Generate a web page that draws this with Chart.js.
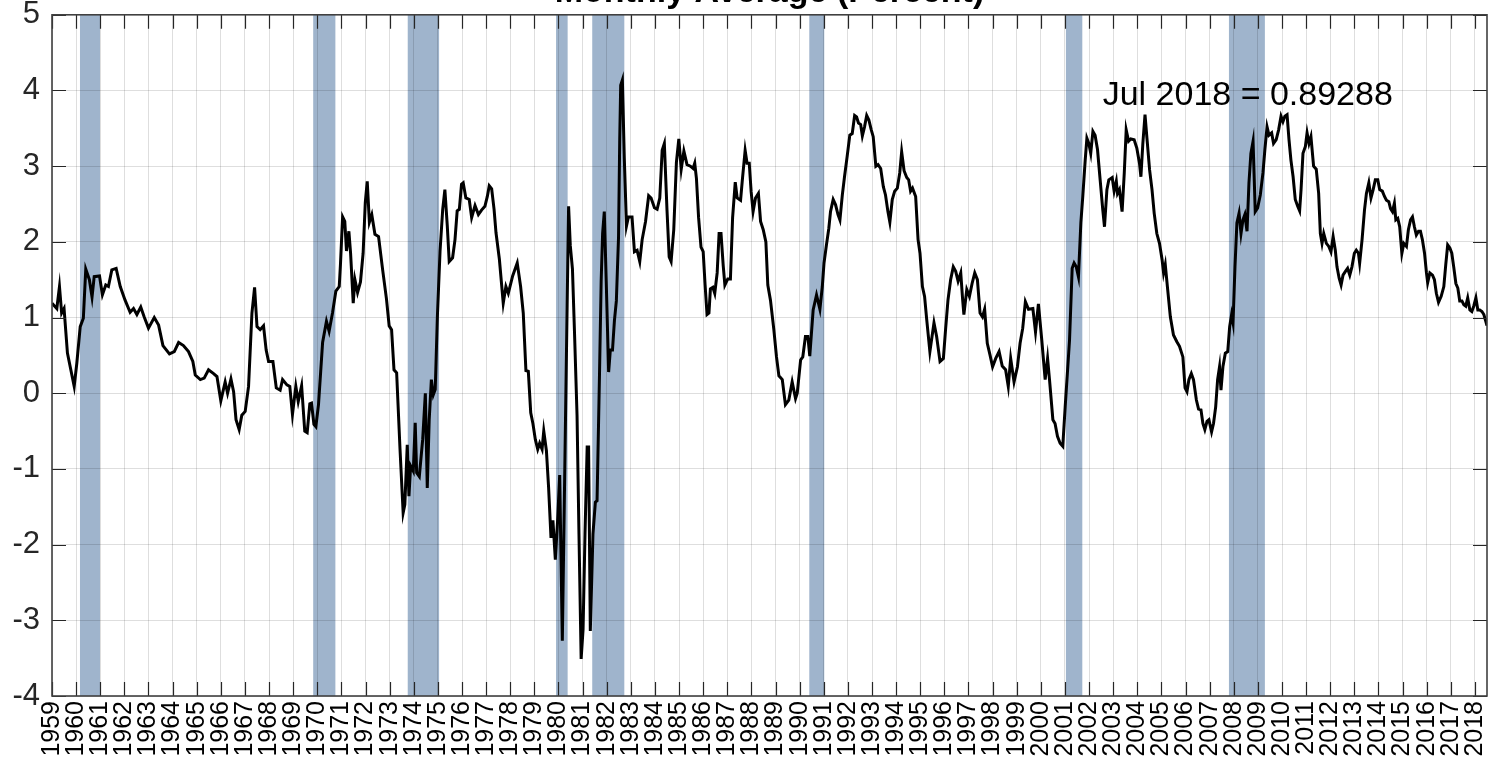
<!DOCTYPE html>
<html>
<head>
<meta charset="utf-8">
<script src="https://cdn.jsdelivr.net/npm/chart.js@4.4.0/dist/chart.umd.min.js"></script>
<style>
  html, body { margin: 0; padding: 0; background: #fff; overflow: hidden; }
  #wrap { position: absolute; left: 0; top: -40px; width: 1502px; height: 807px; }
</style>
</head>
<body>
<div id="wrap"><canvas id="chart"></canvas></div>
<script>
// monthly average (percent); x = fractional year
const dates = [
  1959.0, 1959.2, 1959.31, 1959.4, 1959.5, 1959.64, 1959.78, 1959.92, 1960.03, 1960.17,
  1960.3, 1960.4, 1960.55, 1960.66, 1960.75, 1960.97, 1961.09, 1961.23, 1961.34, 1961.48,
  1961.66, 1961.83, 1962.03, 1962.24, 1962.38, 1962.52, 1962.68, 1962.82, 1963.0, 1963.24,
  1963.42, 1963.6, 1963.87, 1964.07, 1964.25, 1964.45, 1964.66, 1964.84, 1964.94, 1965.15,
  1965.31, 1965.49, 1965.7, 1965.84, 1966.0, 1966.18, 1966.28, 1966.42, 1966.53, 1966.63,
  1966.76, 1966.87, 1967.01, 1967.15, 1967.29, 1967.4, 1967.5, 1967.63, 1967.77, 1967.88,
  1967.98, 1968.16, 1968.3, 1968.46, 1968.56, 1968.74, 1968.86, 1968.97, 1969.11, 1969.21,
  1969.35, 1969.48, 1969.58, 1969.69, 1969.76, 1969.86, 1969.94, 1970.05, 1970.22, 1970.38,
  1970.49, 1970.63, 1970.77, 1970.91, 1970.96, 1971.05, 1971.14, 1971.21, 1971.31, 1971.38,
  1971.49, 1971.56, 1971.67, 1971.79, 1971.9, 1971.99, 1972.07, 1972.16, 1972.26, 1972.39,
  1972.54, 1972.71, 1972.87, 1972.98, 1973.08, 1973.18, 1973.29, 1973.43, 1973.56, 1973.63,
  1973.73, 1973.8, 1973.87, 1973.98, 1974.06, 1974.12, 1974.23, 1974.37, 1974.48, 1974.56,
  1974.64, 1974.73, 1974.81, 1974.89, 1974.98, 1975.09, 1975.2, 1975.29, 1975.39, 1975.47,
  1975.61, 1975.71, 1975.8, 1975.89, 1975.98, 1976.05, 1976.16, 1976.3, 1976.4, 1976.54,
  1976.68, 1976.81, 1976.95, 1977.05, 1977.13, 1977.23, 1977.33, 1977.41, 1977.55, 1977.71,
  1977.82, 1977.92, 1978.1, 1978.29, 1978.43, 1978.54, 1978.65, 1978.75, 1978.85, 1978.94,
  1979.04, 1979.14, 1979.22, 1979.32, 1979.39, 1979.5, 1979.59, 1979.69, 1979.77, 1979.87,
  1979.97, 1980.05, 1980.16, 1980.27, 1980.36, 1980.42, 1980.49, 1980.58, 1980.67, 1980.77,
  1980.85, 1980.94, 1981.02, 1981.1, 1981.19, 1981.25, 1981.32, 1981.43, 1981.53, 1981.6,
  1981.7, 1981.77, 1981.83, 1981.9, 1981.98, 1982.08, 1982.15, 1982.24, 1982.32, 1982.4,
  1982.49, 1982.54, 1982.58, 1982.65, 1982.73, 1982.82, 1982.9, 1983.05, 1983.15, 1983.26,
  1983.37, 1983.47, 1983.61, 1983.74, 1983.84, 1983.98, 1984.09, 1984.2, 1984.3, 1984.39,
  1984.5, 1984.59, 1984.67, 1984.78, 1984.89, 1984.99, 1985.09, 1985.2, 1985.33, 1985.47,
  1985.58, 1985.65, 1985.72, 1985.81, 1985.91, 1986.0, 1986.08, 1986.16, 1986.24, 1986.3,
  1986.4, 1986.48, 1986.58, 1986.66, 1986.74, 1986.83, 1986.9, 1987.02, 1987.13, 1987.22,
  1987.33, 1987.41, 1987.55, 1987.63, 1987.74, 1987.82, 1987.91, 1987.99, 1988.07, 1988.17,
  1988.29, 1988.38, 1988.49, 1988.6, 1988.68, 1988.79, 1988.93, 1989.04, 1989.14, 1989.28,
  1989.41, 1989.55, 1989.69, 1989.83, 1989.9, 1990.04, 1990.13, 1990.24, 1990.34, 1990.42,
  1990.56, 1990.7, 1990.84, 1990.94, 1991.01, 1991.12, 1991.21, 1991.28, 1991.39, 1991.49,
  1991.59, 1991.67, 1991.77, 1991.86, 1991.97, 1992.08, 1992.18, 1992.28, 1992.36, 1992.44,
  1992.53, 1992.6, 1992.69, 1992.78, 1992.87, 1992.97, 1993.05, 1993.16, 1993.25, 1993.36,
  1993.47, 1993.56, 1993.66, 1993.74, 1993.84, 1993.94, 1994.05, 1994.15, 1994.23, 1994.33,
  1994.44, 1994.52, 1994.6, 1994.68, 1994.81, 1994.91, 1994.99, 1995.09, 1995.18, 1995.27,
  1995.4, 1995.57, 1995.68, 1995.82, 1995.96, 1996.05, 1996.15, 1996.26, 1996.37, 1996.47,
  1996.57, 1996.68, 1996.76, 1996.81, 1996.93, 1997.04, 1997.15, 1997.26, 1997.37, 1997.48,
  1997.58, 1997.67, 1997.78, 1997.89, 1998.0, 1998.13, 1998.27, 1998.4, 1998.54, 1998.65,
  1998.75, 1998.89, 1999.03, 1999.14, 1999.25, 1999.36, 1999.49, 1999.67, 1999.78, 1999.9,
  2000.04, 2000.18, 2000.28, 2000.36, 2000.5, 2000.59, 2000.69, 2000.8, 2000.91, 2001.01,
  2001.11, 2001.19, 2001.3, 2001.38, 2001.47, 2001.56, 2001.66, 2001.74, 2001.84, 2001.91,
  2001.99, 2002.07, 2002.16, 2002.25, 2002.35, 2002.46, 2002.57, 2002.64, 2002.74, 2002.82,
  2002.96, 2003.04, 2003.13, 2003.18, 2003.26, 2003.37, 2003.46, 2003.54, 2003.64, 2003.73,
  2003.87, 2003.98, 2004.09, 2004.15, 2004.23, 2004.32, 2004.4, 2004.51, 2004.61, 2004.7,
  2004.81, 2004.92, 2005.03, 2005.09, 2005.16, 2005.26, 2005.37, 2005.5, 2005.64, 2005.75,
  2005.89, 2005.98, 2006.06, 2006.14, 2006.24, 2006.33, 2006.45, 2006.54, 2006.64, 2006.72,
  2006.8, 2006.89, 2006.97, 2007.08, 2007.16, 2007.25, 2007.33, 2007.41, 2007.47, 2007.55,
  2007.65, 2007.75, 2007.83, 2007.91, 2007.97, 2008.05, 2008.13, 2008.22, 2008.3, 2008.38,
  2008.46, 2008.55, 2008.63, 2008.71, 2008.8, 2008.89, 2008.99, 2009.1, 2009.21, 2009.29,
  2009.38, 2009.46, 2009.57, 2009.65, 2009.76, 2009.86, 2009.96, 2010.04, 2010.12, 2010.21,
  2010.29, 2010.37, 2010.46, 2010.55, 2010.65, 2010.73, 2010.79, 2010.87, 2010.97, 2011.04,
  2011.12, 2011.2, 2011.31, 2011.42, 2011.52, 2011.59, 2011.66, 2011.73, 2011.84, 2011.94,
  2012.03, 2012.12, 2012.21, 2012.28, 2012.37, 2012.45, 2012.53, 2012.63, 2012.72, 2012.81,
  2012.9, 2013.0, 2013.08, 2013.17, 2013.22, 2013.32, 2013.42, 2013.5, 2013.6, 2013.69,
  2013.78, 2013.87, 2013.97, 2014.05, 2014.16, 2014.25, 2014.33, 2014.43, 2014.5, 2014.58,
  2014.66, 2014.72, 2014.8, 2014.88, 2014.97, 2015.05, 2015.16, 2015.24, 2015.33, 2015.41,
  2015.49, 2015.57, 2015.66, 2015.74, 2015.82, 2015.91, 2015.99, 2016.04, 2016.13, 2016.24,
  2016.32, 2016.4, 2016.49, 2016.6, 2016.71, 2016.79, 2016.87, 2016.96, 2017.04, 2017.12,
  2017.21, 2017.29, 2017.37, 2017.46, 2017.54, 2017.62, 2017.7, 2017.79, 2017.87, 2017.95,
  2018.04, 2018.12, 2018.2, 2018.29, 2018.37, 2018.5
];

const rate = [
  1.19, 1.12, 1.41, 1.06, 1.12, 0.53, 0.31, 0.09, 0.40, 0.88,
  0.99, 1.64, 1.50, 1.27, 1.54, 1.55, 1.30, 1.43, 1.41, 1.63,
  1.65, 1.41, 1.23, 1.07, 1.12, 1.04, 1.14, 1.01, 0.86, 1.00,
  0.90, 0.63, 0.52, 0.55, 0.67, 0.63, 0.55, 0.42, 0.24, 0.18,
  0.20, 0.31, 0.26, 0.22, -0.10, 0.15, 0.00, 0.19, 0.02, -0.35,
  -0.48, -0.29, -0.24, 0.09, 1.06, 1.40, 0.88, 0.84, 0.89, 0.57,
  0.42, 0.42, 0.07, 0.04, 0.18, 0.11, 0.09, -0.28, 0.09, -0.11,
  0.10, -0.50, -0.52, -0.14, -0.13, -0.41, -0.44, -0.15, 0.67, 0.95,
  0.82, 1.06, 1.35, 1.41, 1.70, 2.33, 2.27, 1.88, 2.14, 1.85,
  1.19, 1.50, 1.33, 1.47, 1.85, 2.52, 2.80, 2.26, 2.36, 2.10,
  2.07, 1.63, 1.24, 0.89, 0.84, 0.31, 0.27, -0.74, -1.58, -1.47,
  -0.68, -1.36, -0.96, -1.03, -0.39, -1.05, -1.10, -0.61, 0.00, -1.25,
  -0.35, 0.18, -0.02, 0.05, 1.02, 1.88, 2.43, 2.69, 2.21, 1.74,
  1.79, 2.03, 2.41, 2.43, 2.76, 2.78, 2.58, 2.56, 2.32, 2.48,
  2.36, 2.42, 2.47, 2.60, 2.74, 2.70, 2.43, 2.12, 1.77, 1.19,
  1.41, 1.32, 1.55, 1.72, 1.41, 1.06, 0.30, 0.29, -0.26, -0.40,
  -0.61, -0.74, -0.66, -0.74, -0.50, -0.76, -1.24, -1.91, -1.68, -2.20,
  -1.65, -1.08, -3.27, -0.82, 1.17, 2.47, 1.95, 1.64, 0.75, -0.29,
  -1.86, -3.51, -3.12, -1.86, -0.71, -0.71, -3.14, -1.86, -1.44, -1.42,
  0.23, 1.48, 2.11, 2.40, 1.48, 0.28, 0.57, 0.57, 0.96, 1.22,
  2.06, 3.36, 4.07, 4.14, 3.10, 2.21, 2.33, 2.33, 1.87, 1.89,
  1.74, 2.03, 2.27, 2.61, 2.58, 2.45, 2.43, 2.58, 3.21, 3.30,
  2.42, 1.80, 1.74, 2.16, 3.05, 3.36, 2.96, 3.20, 3.02, 3.00,
  2.97, 3.04, 2.84, 2.32, 1.93, 1.87, 1.43, 1.04, 1.06, 1.38,
  1.40, 1.32, 1.59, 2.11, 2.11, 1.69, 1.43, 1.51, 1.51, 2.32,
  2.79, 2.58, 2.55, 2.84, 3.21, 3.04, 3.04, 2.66, 2.40, 2.58,
  2.64, 2.27, 2.16, 2.00, 1.43, 1.23, 0.84, 0.48, 0.23, 0.18,
  -0.15, -0.09, 0.15, -0.07, 0.00, 0.44, 0.48, 0.75, 0.75, 0.49,
  1.10, 1.30, 1.11, 1.41, 1.72, 1.98, 2.18, 2.40, 2.56, 2.49,
  2.36, 2.29, 2.62, 2.86, 3.13, 3.41, 3.43, 3.67, 3.65, 3.57,
  3.55, 3.40, 3.52, 3.67, 3.61, 3.48, 3.39, 3.00, 3.02, 2.97,
  2.73, 2.62, 2.40, 2.26, 2.56, 2.67, 2.71, 2.91, 3.19, 2.94,
  2.85, 2.82, 2.67, 2.71, 2.60, 2.03, 1.85, 1.41, 1.28, 0.97,
  0.55, 0.93, 0.75, 0.42, 0.46, 0.84, 1.23, 1.50, 1.67, 1.61,
  1.48, 1.59, 1.23, 1.04, 1.37, 1.28, 1.45, 1.59, 1.50, 1.06,
  1.01, 1.11, 0.66, 0.51, 0.35, 0.46, 0.55, 0.36, 0.31, 0.09,
  0.46, 0.15, 0.35, 0.66, 0.86, 1.21, 1.11, 1.12, 0.81, 1.18,
  0.70, 0.18, 0.46, 0.18, -0.35, -0.40, -0.57, -0.66, -0.70, -0.18,
  0.31, 0.70, 1.65, 1.72, 1.67, 1.54, 2.25, 2.60, 3.08, 3.37,
  3.30, 3.17, 3.46, 3.41, 3.22, 2.82, 2.42, 2.20, 2.69, 2.82,
  2.85, 2.67, 2.80, 2.64, 2.69, 2.40, 2.91, 3.48, 3.33, 3.36,
  3.35, 3.24, 3.04, 2.86, 3.30, 3.68, 3.37, 2.95, 2.69, 2.38,
  2.11, 1.98, 1.76, 1.59, 1.70, 1.37, 1.01, 0.77, 0.68, 0.62,
  0.48, 0.07, 0.02, 0.18, 0.26, 0.18, -0.09, -0.21, -0.22, -0.40,
  -0.48, -0.37, -0.35, -0.51, -0.40, -0.18, 0.18, 0.35, 0.04, 0.35,
  0.53, 0.55, 0.88, 1.04, 0.93, 1.67, 2.25, 2.38, 2.11, 2.29,
  2.36, 2.14, 2.78, 3.17, 3.33, 2.40, 2.45, 2.62, 2.91, 3.22,
  3.52, 3.41, 3.44, 3.30, 3.35, 3.48, 3.66, 3.59, 3.66, 3.68,
  3.35, 3.08, 2.86, 2.56, 2.47, 2.41, 2.69, 3.17, 3.26, 3.44,
  3.30, 3.39, 3.00, 2.96, 2.64, 2.11, 1.98, 2.11, 1.98, 1.94,
  1.87, 2.07, 1.89, 1.67, 1.52, 1.43, 1.56, 1.61, 1.65, 1.56,
  1.67, 1.85, 1.89, 1.85, 1.72, 2.03, 2.42, 2.64, 2.78, 2.58,
  2.69, 2.82, 2.82, 2.69, 2.67, 2.60, 2.55, 2.53, 2.44, 2.40,
  2.51, 2.29, 2.31, 2.20, 1.85, 1.98, 1.94, 2.16, 2.29, 2.33,
  2.20, 2.09, 2.14, 2.14, 2.03, 1.85, 1.59, 1.46, 1.59, 1.56,
  1.50, 1.32, 1.20, 1.28, 1.41, 1.70, 1.96, 1.92, 1.85, 1.67,
  1.45, 1.39, 1.22, 1.22, 1.17, 1.15, 1.26, 1.10, 1.08, 1.15,
  1.26, 1.10, 1.10, 1.08, 1.04, 0.89288
];

// recession shading (fractional years)
const recStart = [1960.16, 1969.83, 1973.75, 1979.9, 1981.4, 1990.4, 2001.04, 2007.8];
const recEnd = [1960.99, 1970.75, 1975.05, 1980.38, 1982.73, 1991.02, 2001.72, 2009.29];

const years = [];
for (let y = 1959; y <= 2018; y++) years.push(y);
const yTicks = [-4, -3, -2, -1, 0, 1, 2, 3, 4, 5];

const lastLabel = "Jul 2018 = 0.89288";
const lastLabelPos = [2008.58, 3.81];

const FONT = "'Liberation Sans', Arial, Helvetica, sans-serif";

const recessionPlugin = {
  id: "recessions",
  beforeDraw(chart) {
    const { ctx, chartArea: a, scales } = chart;
    ctx.save();
    ctx.fillStyle = "rgb(159,180,204)";
    for (let i = 0; i < recStart.length; i++) {
      const x0 = scales.x.getPixelForValue(recStart[i]);
      const x1 = scales.x.getPixelForValue(recEnd[i]);
      ctx.fillRect(x0, a.top, x1 - x0, a.bottom - a.top);
    }
    ctx.restore();
  },
};

// matlab style box with inward ticks on all four sides
const framePlugin = {
  id: "frame",
  afterDatasetsDraw(chart) {
    const { ctx, chartArea: a, scales } = chart;
    const len = 14;
    ctx.save();
    ctx.strokeStyle = "#262626";
    ctx.lineWidth = 1.2;
    ctx.beginPath();
    years.forEach((v) => {
      const px = Math.round(scales.x.getPixelForValue(v)) + 0.5;
      ctx.moveTo(px, a.bottom);
      ctx.lineTo(px, a.bottom - len);
      ctx.moveTo(px, a.top);
      ctx.lineTo(px, a.top + len);
    });
    yTicks.forEach((v) => {
      const py = Math.round(scales.y.getPixelForValue(v)) + 0.5;
      ctx.moveTo(a.left, py);
      ctx.lineTo(a.left + len, py);
      ctx.moveTo(a.right, py);
      ctx.lineTo(a.right - len, py);
    });
    ctx.stroke();
    ctx.lineWidth = 1.6;
    ctx.strokeStyle = "#404040";
    ctx.strokeRect(a.left, a.top, a.right - a.left, a.bottom - a.top);
    ctx.restore();
  },
  afterDraw(chart) {
    const { ctx, scales } = chart;
    ctx.save();
    ctx.font = "34px " + FONT;
    ctx.fillStyle = "#000";
    ctx.textAlign = "center";
    ctx.textBaseline = "alphabetic";
    ctx.fillText(
      lastLabel,
      scales.x.getPixelForValue(lastLabelPos[0]),
      scales.y.getPixelForValue(lastLabelPos[1])
    );
    ctx.restore();
  },
};

const chart = new Chart("chart", {
  type: "line",
  data: {
    datasets: [
      {
        data: dates.map((d, i) => ({ x: d, y: rate[i] })),
        borderColor: "#000",
        borderWidth: 3,
        pointRadius: 0,
        tension: 0,
        fill: false,
      },
    ],
  },
  options: {
    responsive: true,
    maintainAspectRatio: false,
    animation: false,
    layout: { padding: { left: 0, right: 15, top: 0, bottom: 0 } },
    plugins: {
      legend: { display: false },
      tooltip: { enabled: false },
      title: {
        display: true,
        text: "Monthly Average (Percent)",
        fullSize: false,
        color: "#000",
        font: { family: FONT, size: 34, weight: "bold" },
        padding: { top: 12, bottom: 2 },
      },
    },
    scales: {
      x: {
        type: "linear",
        min: 1959,
        max: 2018.5,
        afterBuildTicks: (s) => {
          s.ticks = years.map((v) => ({ value: v }));
        },
        afterFit: (s) => {
          s.height = 71;
          s.paddingLeft = 0;
          s.paddingRight = 0;
        },
        border: { display: false },
        grid: { color: "rgba(0,0,0,0.13)", lineWidth: 1, drawTicks: false },
        ticks: {
          autoSkip: false,
          minRotation: 90,
          maxRotation: 90,
          padding: 5,
          color: "#000",
          font: { family: FONT, size: 25 },
          callback: (v) => String(v),
        },
      },
      y: {
        min: -4,
        max: 5,
        afterBuildTicks: (s) => {
          s.ticks = yTicks.map((v) => ({ value: v }));
        },
        afterFit: (s) => {
          s.width = 52;
          s.paddingTop = 0;
          s.paddingBottom = 0;
        },
        border: { display: false },
        grid: { color: "rgba(0,0,0,0.13)", lineWidth: 1, drawTicks: false },
        ticks: {
          padding: 12,
          color: "#262626",
          font: { family: FONT, size: 31 },
        },
      },
    },
  },
  plugins: [recessionPlugin, framePlugin],
});
</script>
</body>
</html>
